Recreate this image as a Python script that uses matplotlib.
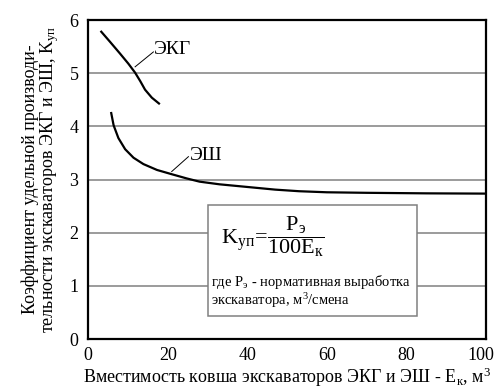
import matplotlib
matplotlib.use("Agg")
import matplotlib.pyplot as plt
import matplotlib.transforms as mtransforms
from matplotlib.patches import Rectangle

plt.rcParams['font.family'] = ['Liberation Serif', 'DejaVu Serif']
plt.rcParams['mathtext.fontset'] = 'custom'
plt.rcParams['mathtext.rm'] = 'Liberation Serif'
plt.rcParams['mathtext.it'] = 'Liberation Serif:italic'

# Data
ekg_x = [3.3, 5.5, 8.0, 10.1, 11.8, 13.1, 14.3, 16.0, 17.8]
ekg_y = [5.78, 5.59, 5.37, 5.18, 5.01, 4.85, 4.69, 4.54, 4.43]

esh_x = [5.8, 6.4, 7.6, 9.3, 11.4, 13.9, 17.3, 21.0, 24.8, 28.0, 33.0,
         40.0, 47.0, 53.0, 60.0, 70.0, 85.0, 100.0]
esh_y = [4.25, 4.02, 3.78, 3.57, 3.41, 3.29, 3.18, 3.10, 3.02, 2.96, 2.91,
         2.86, 2.81, 2.78, 2.76, 2.75, 2.74, 2.735]

x_ticks = [0, 20, 40, 60, 80, 100]
y_ticks = [0, 1, 2, 3, 4, 5, 6]

fig = plt.figure(figsize=(4.98, 3.89), dpi=100)
ax = fig.add_axes([0.177, 0.1285, 0.799, 0.820])

# horizontal grid
for yv in y_ticks[1:-1]:
    ax.axhline(yv, color='#808080', lw=1.1, zorder=1)

ax.plot(ekg_x, ekg_y, color='black', lw=1.6, zorder=3)
ax.plot(esh_x, esh_y, color='black', lw=1.6, zorder=3)

# leader lines and curve labels
ax.plot([11.8, 16.4], [5.12, 5.40], color='black', lw=0.7, zorder=3)
ax.text(16.6, 5.44, 'ЭКГ', fontsize=14, va='center', ha='left', zorder=4)
ax.plot([21.0, 25.2], [3.15, 3.43], color='black', lw=0.7, zorder=3)
ax.text(25.6, 3.45, 'ЭШ', fontsize=14, va='center', ha='left', zorder=4)

# formula box
ax.add_patch(Rectangle((30.2, 0.43), 52.5, 2.09, facecolor='white',
                       edgecolor='#808080', lw=1.1, zorder=5))
ax.text(33.5, 1.92, r'$\mathrm{K}_{\mathrm{уп}}\!=\!\dfrac{\mathrm{P}_{\mathrm{э}}}{100\mathrm{E}_{\mathrm{к}}}$',
        fontsize=16, va='center', ha='left', zorder=6)
ax.text(30.9, 1.08, r'где P$_\mathrm{э}$ - нормативная выработка',
        fontsize=10.5, va='center', ha='left', zorder=6)
ax.text(30.9, 0.73, r'экскаватора, м$^3$/смена',
        fontsize=10.5, va='center', ha='left', zorder=6)

ax.set_xlim(0, 100)
ax.set_ylim(0, 6)
ax.set_xticks(x_ticks)
ax.set_yticks(y_ticks)
ax.tick_params(length=0, labelsize=13)
ax.tick_params(axis='y', pad=7)
ax.tick_params(axis='x', pad=6)
for s in ax.spines.values():
    s.set_linewidth(1.6)

# last x label sits a bit left, as in the original
lbl = ax.get_xticklabels()[-1]
lbl.set_transform(lbl.get_transform() +
                  mtransforms.ScaledTranslation(-0.05, 0, fig.dpi_scale_trans))

ax.set_xlabel(r'Вместимость ковша экскаваторов ЭКГ и ЭШ - E$_\mathrm{к}$, м$^3$',
              fontsize=13, labelpad=1)
ax.set_ylabel('Коэффициент удельной производи-\n'
              r'тельности экскаваторов ЭКГ и ЭШ, K$_\mathrm{уп}$',
              fontsize=13, labelpad=6, linespacing=0.95)

fig.savefig('out.png', dpi=100)
